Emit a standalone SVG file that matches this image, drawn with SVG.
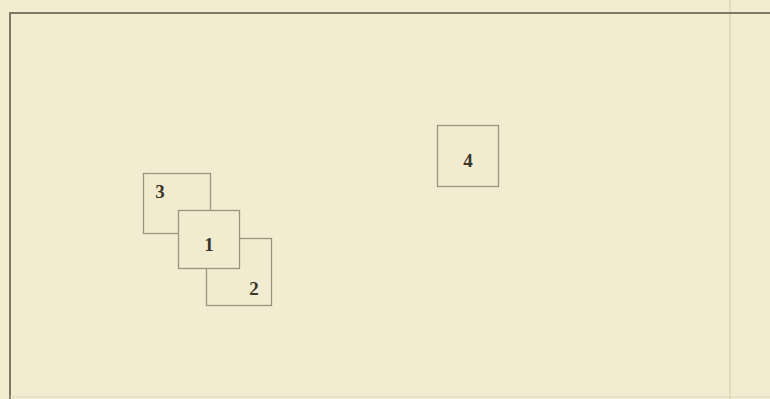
<svg xmlns="http://www.w3.org/2000/svg" width="770" height="399" viewBox="0 0 770 399">
<style>
.box{fill:#f1ecd0;stroke:#9a9480;stroke-width:1.3}
.lbl{font-family:"Liberation Serif","DejaVu Serif",serif;font-size:19px;font-weight:bold;fill:#3a3628;text-anchor:middle}
.frame{fill:none;stroke:#7d7868;stroke-width:2}
</style>
<rect x="0" y="0" width="770" height="399" fill="#f2edd1"/>
<line x1="730" y1="0" x2="730" y2="399" stroke="#e2dcbf" stroke-width="2"/>
<g id="frame">
<polyline class="frame" points="10,399 10,13 770,13"/>
<line x1="10" y1="397" x2="770" y2="397" stroke="#dcd6bd" stroke-width="1"/>
</g>
<g id="connectors"></g>
<g id="node-4">
<rect class="box" x="437.5" y="125.5" width="61" height="61"/>
<text class="lbl" x="468" y="167">4</text>
</g>
<g id="node-3">
<rect class="box" x="143.5" y="173.5" width="67" height="60"/>
<text class="lbl" x="160" y="198">3</text>
</g>
<g id="node-2">
<rect class="box" x="206.5" y="238.5" width="65" height="67"/>
<text class="lbl" x="254" y="295">2</text>
</g>
<g id="node-1">
<rect class="box" x="178.5" y="210.5" width="61" height="58"/>
<text class="lbl" x="209" y="251">1</text>
</g>
</svg>
